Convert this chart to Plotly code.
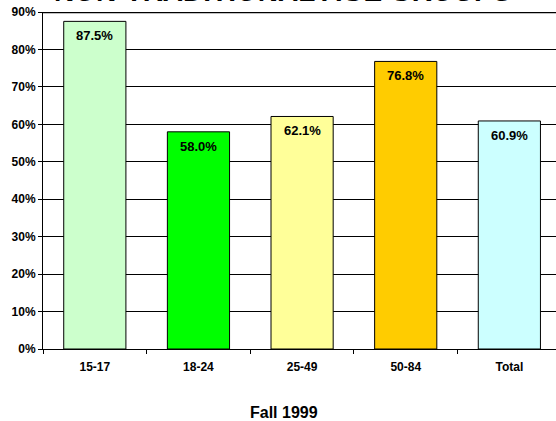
import plotly.graph_objects as go

categories = ["15-17", "18-24", "25-49", "50-84", "Total"]
values = [0.875, 0.580, 0.621, 0.768, 0.609]
labels = ["87.5%", "58.0%", "62.1%", "76.8%", "60.9%"]
colors = ["#CCFFCC", "#00FF00", "#FFFF99", "#FFCC00", "#CCFFFF"]
title_text = "NON-TRADITIONAL AGE GROUPS"
xlabel = "Fall 1999"

FONT = "Liberation Sans, Arial, sans-serif"

fig = go.Figure()
fig.add_trace(go.Bar(
    x=categories, y=values,
    marker=dict(color=colors, line=dict(color="#000000", width=1)),
    hoverinfo="skip",
))

for c, v, t in zip(categories, values, labels):
    fig.add_annotation(x=c, y=v, xref="x", yref="y", text=t, showarrow=False,
                       yanchor="middle", yshift=-14.5,
                       font=dict(family=FONT, size=13, color="#000000", weight="bold"))

fig.add_annotation(x=0.467, y=1, xref="paper", yref="paper", text=title_text,
                   showarrow=False, yanchor="bottom", yshift=2.5,
                   font=dict(family=FONT, size=28, color="#000000", weight="bold"))
fig.add_annotation(x=0.47, y=-0.188, xref="paper", yref="paper", text=xlabel,
                   showarrow=False, yanchor="middle",
                   font=dict(family=FONT, size=16, color="#000000", weight="bold"))

fig.add_shape(type="line", xref="paper", yref="y", x0=0, x1=1, y0=0.9, y1=0.9,
              line=dict(color="#000000", width=2.5))

fig.update_layout(
    width=556, height=421,
    margin=dict(l=43, r=0, t=12, b=72),
    paper_bgcolor="white", plot_bgcolor="white",
    showlegend=False, bargap=0.4,
    font=dict(family=FONT, size=12, color="#000000"),
)
fig.update_xaxes(
    type="category", range=[-0.5, 4.45],
    showline=True, linecolor="#000000", linewidth=1,
    ticks="outside", tickson="boundaries", ticklen=4, tickcolor="#000000",
    ticklabelstandoff=7,
    tickfont=dict(family=FONT, size=12, weight="bold"),
    showgrid=False, zeroline=False,
)
fig.update_yaxes(
    range=[0, 0.9], dtick=0.1, tickformat=".0%",
    showline=True, linecolor="#000000", linewidth=1,
    ticks="outside", ticklen=4, tickcolor="#000000",
    tickfont=dict(family=FONT, size=12, weight="bold"),
    showgrid=True, gridcolor="#000000", gridwidth=1, zeroline=False,
)

fig.write_html("out.html", config={"displayModeBar": False},
               post_script="document.body.style.margin='0';document.body.style.overflow='hidden';")
